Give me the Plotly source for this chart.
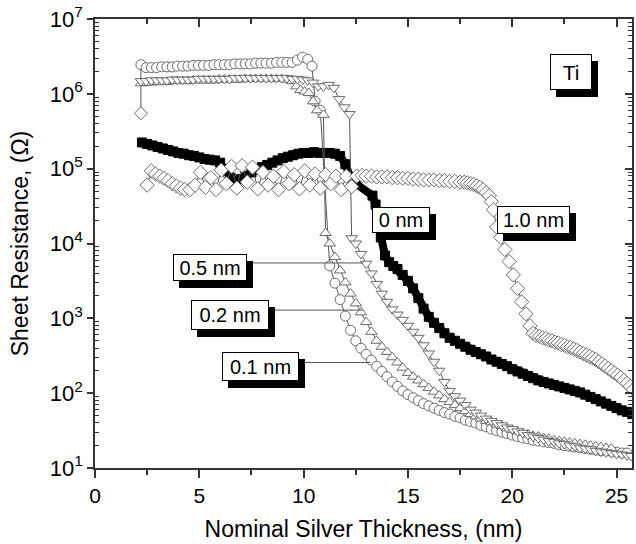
import plotly.graph_objects as go

# ---------------- data: (nominal Ag thickness [nm], log10 sheet resistance [ohm]) ----------------
R_0NM = [(2.25, 5.35), (2.5, 5.33), (2.75, 5.31), (3.0, 5.29), (3.25, 5.27), (3.5, 5.25), (3.75, 5.23),
         (4.0, 5.21), (4.25, 5.2), (4.5, 5.18), (4.75, 5.17), (5.0, 5.15), (5.25, 5.13), (5.5, 5.12),
         (5.75, 5.11), (6.0, 5.08), (6.25, 4.98), (6.5, 4.88), (6.75, 4.83), (7.0, 4.86), (7.25, 4.9),
         (7.5, 4.95), (7.75, 4.99), (8.0, 5.02), (8.25, 5.05), (8.5, 5.08), (8.75, 5.11), (9.0, 5.14),
         (9.25, 5.16), (9.5, 5.18), (9.75, 5.2), (10.0, 5.21), (10.25, 5.21), (10.5, 5.22), (10.75, 5.21),
         (11.0, 5.21), (11.25, 5.21), (11.5, 5.2), (11.75, 5.17), (12.0, 5.06), (12.25, 4.88), (12.5, 4.8),
         (13.3, 4.64), (13.45, 4.52), (13.55, 4.3), (13.7, 4.08), (13.9, 3.84), (14.1, 3.75), (14.3, 3.7),
         (14.5, 3.66), (14.75, 3.58), (15.0, 3.5), (15.25, 3.4), (15.5, 3.27), (15.75, 3.13), (16.0, 3.02),
         (16.25, 2.94), (16.5, 2.87), (16.75, 2.8), (17.0, 2.74), (17.25, 2.7), (17.5, 2.66), (17.75, 2.62),
         (18.0, 2.58), (18.25, 2.55), (18.5, 2.52), (18.75, 2.49), (19.0, 2.45), (19.25, 2.42), (19.5, 2.39),
         (19.75, 2.36), (20.0, 2.32), (20.25, 2.29), (20.5, 2.26), (20.75, 2.23), (21.0, 2.2), (21.25, 2.17),
         (21.5, 2.15), (21.75, 2.13), (22.0, 2.11), (22.25, 2.09), (22.5, 2.07), (22.75, 2.05), (23.0, 2.03),
         (23.25, 2.01), (23.5, 1.98), (23.75, 1.95), (24.0, 1.92), (24.25, 1.89), (24.5, 1.86), (24.75, 1.83),
         (25.0, 1.8), (25.25, 1.77), (25.5, 1.75), (25.75, 1.72)]

R_01NM = [(2.2, 5.74), (2.2, 6.39), (2.45, 6.35), (2.7, 6.35), (2.95, 6.35), (3.2, 6.36), (3.45, 6.36),
          (3.7, 6.36), (3.95, 6.37), (4.2, 6.37), (4.45, 6.37), (4.7, 6.38), (4.95, 6.38), (5.2, 6.38),
          (5.45, 6.38), (5.7, 6.39), (5.95, 6.39), (6.2, 6.39), (6.45, 6.39), (6.7, 6.4), (6.95, 6.4),
          (7.2, 6.4), (7.45, 6.4), (7.7, 6.41), (7.95, 6.41), (8.2, 6.41), (8.45, 6.41), (8.7, 6.42),
          (8.95, 6.42), (9.2, 6.42), (9.45, 6.42), (9.7, 6.45), (9.95, 6.49), (10.2, 6.46), (10.4, 6.37),
          (10.55, 5.9), (10.8, 5.78), (11.25, 3.7), (11.5, 3.47), (11.75, 3.25), (12.0, 3.03), (12.25, 2.84),
          (12.5, 2.7), (12.75, 2.6), (13.0, 2.52), (13.25, 2.44), (13.5, 2.36), (13.75, 2.29), (14.0, 2.22),
          (14.25, 2.15), (14.5, 2.09), (14.75, 2.03), (15.0, 1.98), (15.25, 1.94), (15.5, 1.9), (15.75, 1.86),
          (16.0, 1.83), (16.25, 1.8), (16.5, 1.77), (16.75, 1.74), (17.0, 1.72), (17.25, 1.69), (17.5, 1.67),
          (17.75, 1.64), (18.0, 1.62), (18.25, 1.6), (18.5, 1.57), (18.75, 1.55), (19.0, 1.52), (19.25, 1.5),
          (19.5, 1.48), (19.75, 1.46), (20.0, 1.44), (20.25, 1.42), (20.5, 1.4), (20.75, 1.39), (21.0, 1.37),
          (21.25, 1.36), (21.5, 1.35), (21.75, 1.34), (22.0, 1.33), (22.25, 1.31), (22.5, 1.3), (22.75, 1.29),
          (23.0, 1.28), (23.25, 1.27), (23.5, 1.26), (23.75, 1.25), (24.0, 1.24), (24.25, 1.23), (24.5, 1.23),
          (24.75, 1.22), (25.0, 1.21), (25.25, 1.2), (25.5, 1.2)]

R_02NM = [(2.2, 6.14), (2.45, 6.15), (2.7, 6.15), (2.95, 6.16), (3.2, 6.16), (3.45, 6.16), (3.7, 6.17),
          (3.95, 6.17), (4.2, 6.17), (4.45, 6.17), (4.7, 6.18), (4.95, 6.18), (5.2, 6.18), (5.45, 6.18),
          (5.7, 6.18), (5.95, 6.19), (6.2, 6.19), (6.45, 6.19), (6.7, 6.19), (6.95, 6.19), (7.2, 6.2),
          (7.45, 6.2), (7.7, 6.2), (7.95, 6.2), (8.2, 6.2), (8.45, 6.2), (8.7, 6.2), (8.95, 6.2), (9.2, 6.19),
          (9.45, 6.17), (9.65, 6.1), (9.85, 6.05), (10.05, 6.03), (10.25, 6.01), (10.45, 5.9), (10.65, 5.78),
          (10.95, 5.72), (11.05, 4.14), (11.25, 4.0), (11.5, 3.82), (11.75, 3.64), (12.0, 3.48), (12.25, 3.33),
          (12.5, 3.2), (12.75, 3.08), (13.0, 2.95), (13.25, 2.82), (13.5, 2.7), (13.75, 2.62), (14.0, 2.55),
          (14.25, 2.48), (14.5, 2.41), (14.75, 2.34), (15.0, 2.27), (15.25, 2.22), (15.5, 2.17), (15.75, 2.12),
          (16.0, 2.07), (16.25, 2.02), (16.5, 1.97), (16.75, 1.92), (17.0, 1.88), (17.25, 1.84), (17.5, 1.8),
          (17.75, 1.76), (18.0, 1.72), (18.25, 1.69), (18.5, 1.66), (18.75, 1.63), (19.0, 1.61), (19.25, 1.58),
          (19.5, 1.56), (19.75, 1.53), (20.0, 1.51), (20.25, 1.49), (20.5, 1.47), (20.75, 1.45), (21.0, 1.43),
          (21.25, 1.42), (21.5, 1.4), (21.75, 1.39), (22.0, 1.37), (22.25, 1.36), (22.5, 1.35), (22.75, 1.34),
          (23.0, 1.33), (23.25, 1.32), (23.5, 1.31), (23.75, 1.3), (24.0, 1.29), (24.25, 1.28), (24.5, 1.27),
          (24.75, 1.26)]

R_05NM = [(2.2, 6.17), (2.45, 6.17), (2.7, 6.18), (2.95, 6.18), (3.2, 6.18), (3.45, 6.18), (3.7, 6.19),
          (3.95, 6.19), (4.2, 6.19), (4.45, 6.19), (4.7, 6.19), (4.95, 6.2), (5.2, 6.2), (5.45, 6.2),
          (5.7, 6.2), (5.95, 6.2), (6.2, 6.2), (6.45, 6.2), (6.7, 6.21), (6.95, 6.21), (7.2, 6.21),
          (7.45, 6.21), (7.7, 6.21), (7.95, 6.21), (8.2, 6.21), (8.45, 6.21), (8.7, 6.21), (8.95, 6.21),
          (9.2, 6.21), (9.45, 6.2), (9.7, 6.2), (9.95, 6.19), (10.2, 6.18), (10.45, 6.15), (10.7, 6.1),
          (10.95, 6.1), (11.2, 6.12), (11.45, 6.08), (11.7, 5.93), (11.95, 5.82), (12.2, 5.73), (12.3, 4.07),
          (12.5, 4.0), (12.75, 3.86), (13.0, 3.73), (13.25, 3.6), (13.5, 3.46), (13.75, 3.33), (14.0, 3.22),
          (14.25, 3.12), (14.5, 3.05), (14.75, 2.98), (15.0, 2.9), (15.25, 2.82), (15.5, 2.74), (15.75, 2.64),
          (16.0, 2.53), (16.25, 2.42), (16.5, 2.3), (16.75, 2.15), (17.0, 2.03), (17.25, 1.96), (17.5, 1.9),
          (17.75, 1.84), (18.0, 1.78), (18.25, 1.74), (18.5, 1.7), (18.75, 1.66), (19.0, 1.63), (19.25, 1.6),
          (19.5, 1.57), (19.75, 1.54), (20.0, 1.52), (20.25, 1.49), (20.5, 1.47), (20.75, 1.44), (21.0, 1.42),
          (21.25, 1.4), (21.5, 1.38), (21.75, 1.36), (22.0, 1.35), (22.25, 1.33), (22.5, 1.32), (22.75, 1.3),
          (23.0, 1.29), (23.25, 1.27), (23.5, 1.26), (23.75, 1.25), (24.0, 1.23), (24.25, 1.22), (24.5, 1.21),
          (24.75, 1.2), (25.0, 1.19), (25.25, 1.18), (25.5, 1.17), (25.7, 1.16)]

R_10NM = [(2.5, 4.78), (2.7, 4.97), (2.9, 4.93), (3.1, 4.9), (3.3, 4.87), (3.5, 4.84), (3.7, 4.8),
          (3.9, 4.77), (4.1, 4.74), (4.3, 4.72), (4.55, 4.72), (4.8, 4.78), (5.05, 4.95), (5.3, 4.75),
          (5.55, 4.88), (5.8, 4.72), (6.05, 4.98), (6.3, 4.8), (6.55, 5.03), (6.8, 4.74), (7.05, 5.04),
          (7.3, 4.82), (7.55, 5.02), (7.8, 4.73), (8.05, 4.95), (8.3, 4.78), (8.55, 4.9), (8.8, 4.72),
          (9.05, 4.96), (9.3, 4.8), (9.55, 4.92), (9.8, 4.73), (10.05, 4.97), (10.3, 4.78), (10.55, 4.93),
          (10.8, 4.74), (11.05, 4.92), (11.3, 4.8), (11.55, 4.9), (11.8, 4.72), (12.05, 4.9), (12.3, 4.76),
          (12.55, 4.9), (12.8, 4.91), (13.0, 4.9), (13.25, 4.9), (13.5, 4.89), (13.75, 4.89), (14.0, 4.89),
          (14.25, 4.88), (14.5, 4.88), (14.75, 4.87), (15.0, 4.87), (15.25, 4.86), (15.5, 4.86), (15.75, 4.85),
          (16.0, 4.85), (16.25, 4.85), (16.5, 4.84), (16.75, 4.84), (17.0, 4.83), (17.25, 4.83), (17.5, 4.82),
          (17.7, 4.82), (17.85, 4.81), (18.0, 4.8), (18.15, 4.79), (18.3, 4.77), (18.45, 4.75), (18.6, 4.72),
          (18.75, 4.68), (18.9, 4.64), (19.0, 4.56), (19.1, 4.45), (19.25, 4.22), (19.45, 4.08), (19.65, 3.92),
          (19.85, 3.76), (20.05, 3.58), (20.25, 3.4), (20.45, 3.22), (20.65, 3.06), (20.85, 2.9), (21.0, 2.8),
          (21.15, 2.77), (21.3, 2.76), (21.45, 2.74), (21.6, 2.73), (21.75, 2.71), (21.9, 2.7), (22.05, 2.68),
          (22.2, 2.67), (22.35, 2.65), (22.5, 2.64), (22.65, 2.62), (22.8, 2.61), (22.95, 2.59), (23.1, 2.57),
          (23.25, 2.55), (23.4, 2.53), (23.55, 2.51), (23.7, 2.49), (23.85, 2.47), (24.0, 2.45), (24.15, 2.42),
          (24.3, 2.39), (24.45, 2.36), (24.6, 2.33), (24.75, 2.3), (24.9, 2.27), (25.05, 2.24), (25.2, 2.21),
          (25.35, 2.17), (25.5, 2.13), (25.65, 2.09), (25.8, 2.05)]

X_TICKS = [0, 5, 10, 15, 20, 25]
X_MINOR = [2.5, 7.5, 12.5, 17.5, 22.5]
Y_DECADES = [1, 2, 3, 4, 5, 6, 7]

# label boxes: text, x [nm], log10(R), box width, box height
LABELS = [("Ti", 22.82, 6.29, 38, 32),
          ("0 nm", 14.68, 4.31, 54, 22),
          ("1.0 nm", 21.02, 4.32, 69, 24),
          ("0.5 nm", 5.53, 3.68, 70, 23),
          ("0.2 nm", 6.49, 3.05, 74, 26),
          ("0.1 nm", 7.95, 2.35, 73, 25)]
# leader lines: x start, x end, log10(R)
LEADERS = [(7.3, 12.87, 3.74), (8.36, 12.85, 3.11), (9.8, 13.2, 2.41)]


def unzip(pts):
    return [p[0] for p in pts], [10 ** p[1] for p in pts]


FONT = "Liberation Sans, Arial, sans-serif"
AX = "#333333"
GRAY = "#6a6a6a"

fig = go.Figure()


def add_series(pts, symbol, size, fill, edge, linecol, lw=1, symbols=None):
    x, y = unzip(pts)
    fig.add_trace(go.Scatter(
        x=x, y=y, mode="lines+markers",
        line=dict(color=linecol, width=lw),
        marker=dict(symbol=symbols if symbols else symbol, size=size, color=fill,
                    line=dict(color=edge, width=1)),
        showlegend=False, hoverinfo="skip"))


add_series(R_0NM, "square", 9, "black", "black", "black", lw=8)
sym01 = ["diamond"] + ["circle"] * (len(R_01NM) - 1)
add_series(R_01NM, "circle", 10, "white", GRAY, "#555555", symbols=sym01)
add_series(R_02NM, "triangle-up", 10, "white", GRAY, "#555555")
add_series(R_05NM, "triangle-down", 10, "white", GRAY, "#555555")
add_series(R_10NM, "diamond", 11, "white", GRAY, "#555555")

for x0, x1, ly in LEADERS:
    fig.add_trace(go.Scatter(x=[x0, x1], y=[10 ** ly, 10 ** ly], mode="lines",
                             line=dict(color="#555555", width=1),
                             showlegend=False, hoverinfo="skip"))

# dummy trace so the mirrored top/right axes are drawn
fig.add_trace(go.Scatter(x=[1], y=[100], xaxis="x2", yaxis="y2", mode="markers",
                         marker=dict(size=1, opacity=0), showlegend=False, hoverinfo="skip"))

annotations = []
for text, xa, ly, w, h in LABELS:
    fs = 21 if text == "Ti" else 20
    common = dict(x=xa, y=ly, xref="x", yref="y", text=text, showarrow=False,
                  width=w, height=h, borderwidth=1, borderpad=1,
                  xanchor="center", yanchor="middle")
    shadow = dict(common)
    shadow.update(bgcolor="black", bordercolor="black", xshift=6, yshift=-7,
                  font=dict(family=FONT, size=fs, color="black"))
    annotations.append(shadow)
    box = dict(common)
    box.update(bgcolor="white", bordercolor="black",
               font=dict(family=FONT, size=fs, color="black"))
    annotations.append(box)

y_tickvals = [10 ** d for d in Y_DECADES]
y_ticktext = ["10<sup>%d</sup>" % d for d in Y_DECADES]
y_minor = [m * 10 ** d for d in Y_DECADES[:-1] for m in range(2, 10)]

fig.update_layout(
    width=636, height=544,
    margin=dict(l=95, r=4, t=19, b=76),
    paper_bgcolor="white", plot_bgcolor="white",
    font=dict(family=FONT, color="black"),
    showlegend=False,
    annotations=annotations,
    xaxis=dict(range=[0, 25.74], tickvals=X_TICKS, ticks="outside", ticklen=8, tickwidth=1.5,
               tickcolor=AX, showline=True, linecolor=AX, linewidth=1.5, showgrid=False, zeroline=False,
               automargin=False,
               tickfont=dict(family=FONT, size=21, color="black"),
               minor=dict(tickvals=X_MINOR, ticks="outside", ticklen=5, tickwidth=1.5, tickcolor=AX,
                          showgrid=False),
               title=dict(text="Nominal Silver Thickness, (nm)", font=dict(family=FONT, size=23))),
    xaxis2=dict(range=[0, 25.74], overlaying="x", side="top", anchor="y", tickvals=X_TICKS,
                ticks="inside", ticklen=8, tickwidth=1.5, tickcolor=AX, showline=True, linecolor=AX,
                linewidth=1.5, showgrid=False, zeroline=False, showticklabels=False, automargin=False,
                minor=dict(tickvals=X_MINOR, ticks="inside", ticklen=5, tickwidth=1.5, tickcolor=AX,
                           showgrid=False)),
    yaxis=dict(type="log", range=[1, 7], tickvals=y_tickvals, ticktext=y_ticktext, ticks="outside",
               ticklen=6, tickwidth=1.5, tickcolor=AX, showline=True, linecolor=AX, linewidth=1.5,
               showgrid=False, zeroline=False, automargin=False, ticklabeloverflow="allow",
               tickfont=dict(family=FONT, size=22, color="black"),
               minor=dict(tickvals=y_minor, ticks="inside", ticklen=4, tickwidth=1, tickcolor=AX,
                          showgrid=False),
               title=dict(text="Sheet Resistance, (\u03a9)", font=dict(family=FONT, size=23))),
    yaxis2=dict(type="log", range=[1, 7], overlaying="y", side="right", anchor="x",
                tickvals=y_tickvals, ticks="inside", ticklen=7, tickwidth=1.5, tickcolor=AX,
                showline=True, linecolor=AX, linewidth=1.5, showgrid=False, zeroline=False,
                showticklabels=False, automargin=False,
                minor=dict(tickvals=y_minor, ticks="inside", ticklen=4, tickwidth=1, tickcolor=AX,
                           showgrid=False)),
)

# remove the browser's default 8px body margin so the 636x544 figure fills the window exactly
fig.write_html("out.html", config={"displayModeBar": False},
               post_script="document.body.style.margin='0';document.body.style.overflow='hidden';")
